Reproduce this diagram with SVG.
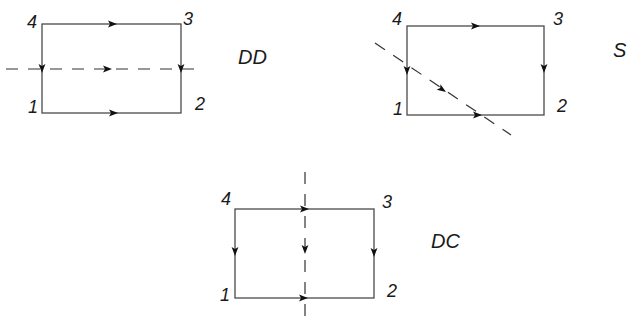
<svg xmlns="http://www.w3.org/2000/svg" xmlns:xlink="http://www.w3.org/1999/xlink" width="627" height="326" viewBox="0 0 627 326">
<style>
.edge{fill:none;stroke:#4a4a4a;stroke-width:1.3}
.dash{fill:none;stroke:#333;stroke-width:1.2;stroke-dasharray:12 10}
.num{font-family:"Liberation Sans",Arial,sans-serif;font-style:italic;font-size:18px;fill:#1a1a1a}
.lbl{font-family:"Liberation Sans",Arial,sans-serif;font-style:italic;font-size:20px;fill:#1a1a1a}
.ah{fill:#111}
</style>
<defs>
<path id="ah" d="M0,0 L-9,-3.4 L-7,0 L-9,3.4 Z"/>
</defs>
<rect width="627" height="326" fill="#fff"/>
<g id="diagram-DD">
<rect class="edge" x="42" y="24" width="139" height="89"/>
<text class="num" x="27" y="28">4</text>
<text class="num" x="183" y="25">3</text>
<text class="num" x="28" y="113">1</text>
<text class="num" x="195" y="110">2</text>
<text class="lbl" x="238" y="64">DD</text>
</g>
<g id="diagram-S">
<rect class="edge" x="407" y="26" width="137" height="89"/>
<text class="num" x="392" y="25">4</text>
<text class="num" x="553" y="25">3</text>
<text class="num" x="393" y="115">1</text>
<text class="num" x="557" y="112">2</text>
<text class="lbl" x="613" y="57">S</text>
</g>
<g id="diagram-DC">
<rect class="edge" x="235" y="209" width="139" height="89"/>
<text class="num" x="221" y="205">4</text>
<text class="num" x="382" y="208">3</text>
<text class="num" x="220" y="301">1</text>
<text class="num" x="387" y="297">2</text>
<text class="lbl" x="431" y="248">DC</text>
</g>
<g id="connectors">
<line class="dash" x1="6" y1="69" x2="202" y2="69"/>
<line class="dash" x1="375" y1="43" x2="511" y2="135"/>
<line class="dash" x1="305" y1="172" x2="305" y2="323"/>
<g class="ah">
<use xlink:href="#ah" transform="translate(117,24)"/>
<use xlink:href="#ah" transform="translate(118,113)"/>
<use xlink:href="#ah" transform="translate(42,73) rotate(90)"/>
<use xlink:href="#ah" transform="translate(181,73) rotate(90)"/>
<use xlink:href="#ah" transform="translate(112,69)"/>
<use xlink:href="#ah" transform="translate(480,26)"/>
<use xlink:href="#ah" transform="translate(482,115)"/>
<use xlink:href="#ah" transform="translate(407,75) rotate(90)"/>
<use xlink:href="#ah" transform="translate(544,73) rotate(90)"/>
<use xlink:href="#ah" transform="translate(446,92) rotate(34)"/>
<use xlink:href="#ah" transform="translate(309,209)"/>
<use xlink:href="#ah" transform="translate(308,298)"/>
<use xlink:href="#ah" transform="translate(305,254) rotate(90)"/>
<use xlink:href="#ah" transform="translate(235,256) rotate(90)"/>
<use xlink:href="#ah" transform="translate(374,257) rotate(90)"/>
</g>
</g>
</svg>
